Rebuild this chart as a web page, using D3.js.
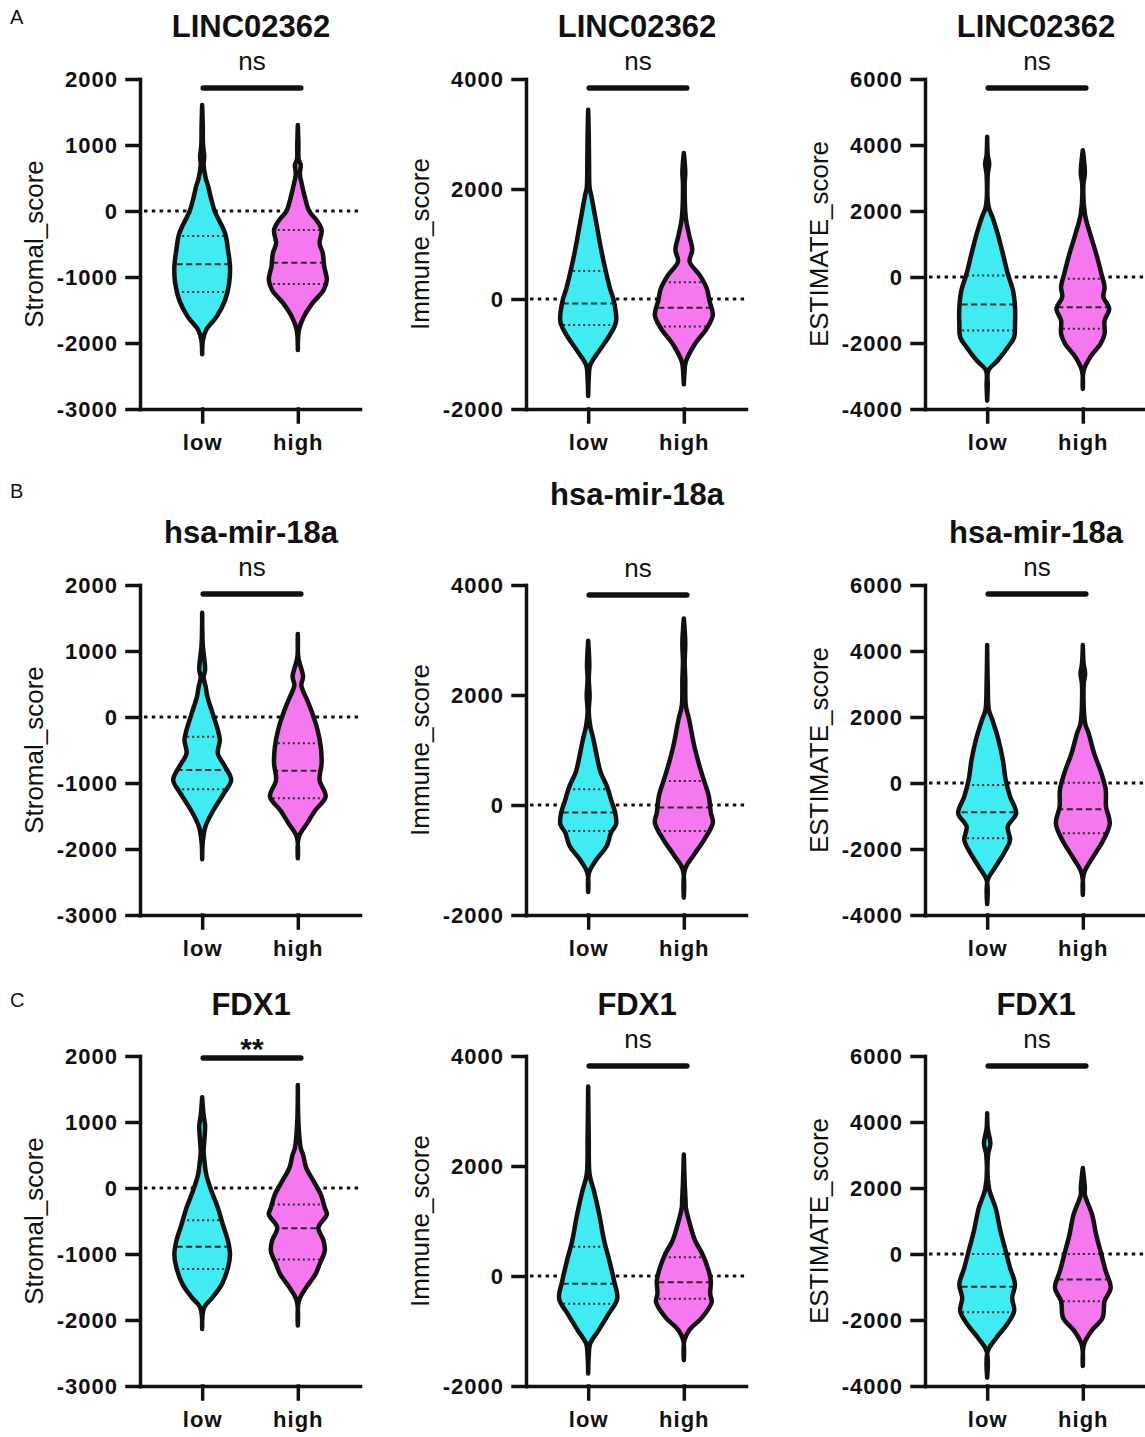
<!DOCTYPE html>
<html lang="en">
<head>
<meta charset="UTF-8">
<title>Violins</title>
<script src="https://d3js.org/d3.v7.min.js"></script>
<style>
    body { margin: 0; background: #fff; }
    text { font-family: Arial, "Liberation Sans", sans-serif; fill: #111; }
    .tick text { font-size: 22px; font-weight: bold; letter-spacing: 1px; }
    .domain, .tick line { stroke: #111; stroke-width: 3.5; stroke-linecap: square; }
</style>
</head>
<body>
<script>
    const width = 1145, height = 1437;

    const genes  = ["LINC02362", "hsa-mir-18a", "FDX1"];
    const scores = ["Stromal_score", "Immune_score", "ESTIMATE_score"];
    const groups = ["low", "high"];
    const stats  = ["ns", "ns", "ns", "ns", "ns", "ns", "**", "ns", "ns"];
    const panelLetters = ["A", "B", "C"];

    const stromalTicks  = [-3000, -2000, -1000, 0, 1000, 2000];
    const immuneTicks   = [-2000, 0, 2000, 4000];
    const estimateTicks = [-4000, -2000, 0, 2000, 4000, 6000];

    // density profiles: [score, relative density], top to bottom
    const lincStromalLow  = [[1606,0],[1300,0.02],[1000,0.03],[823,0.07],[700,0.05],[500,0.12],[369,0.21],[200,0.3],[0,0.43],[-340,0.79],[-590,0.89],[-843,0.96],[-1096,0.93],[-1350,0.79],[-1600,0.5],[-1800,0.14],[-1950,0.03],[-2170,0]];
    const lincStromalHigh = [[1303,0],[1000,0.02],[780,0.03],[700,0.1],[560,0.07],[400,0.14],[268,0.21],[0,0.39],[-136,0.64],[-288,0.82],[-490,0.75],[-640,0.86],[-843,0.91],[-1045,1],[-1197,0.89],[-1400,0.5],[-1600,0.21],[-1800,0.04],[-2106,0]];
    const lincImmuneLow   = [[3442,0],[3000,0.02],[2500,0.03],[2016,0.05],[1900,0.1],[1470,0.25],[863,0.46],[500,0.61],[195,0.75],[-47,0.89],[-411,0.96],[-654,0.75],[-957,0.36],[-1200,0.07],[-1450,0.02],[-1765,0]];
    const lincImmuneHigh  = [[2653,0],[2300,0.05],[2100,0.03],[1470,0.07],[1166,0.18],[893,0.29],[680,0.2],[438,0.54],[195,0.79],[-47,0.89],[-290,1],[-533,0.79],[-836,0.36],[-1140,0.07],[-1350,0.02],[-1552,0]];
    const lincEstLow      = [[4249,0],[3700,0.02],[3440,0.07],[3100,0.02],[2120,0.05],[1820,0.18],[1314,0.36],[707,0.54],[100,0.71],[-407,0.89],[-913,0.96],[-1419,0.96],[-1824,0.93],[-2128,0.71],[-2532,0.36],[-2836,0.04],[-3300,0.02],[-3747,0]];
    const lincEstHigh     = [[3844,0],[3136,0.07],[2800,0.02],[1920,0.07],[1314,0.25],[707,0.46],[100,0.64],[-306,0.75],[-609,0.71],[-964,0.91],[-1318,0.75],[-1723,0.75],[-2026,0.61],[-2431,0.25],[-2836,0.03],[-3393,0]];

    const mirStromalLow   = [[1581,0],[1100,0.02],[712,0.1],[600,0.05],[460,0.12],[308,0.18],[56,0.36],[-197,0.54],[-348,0.61],[-550,0.54],[-753,0.79],[-955,1],[-1157,0.75],[-1409,0.39],[-1662,0.11],[-1900,0.02],[-2157,0]];
    const mirStromalHigh  = [[1258,0],[900,0.02],[610,0.18],[480,0.12],[258,0.32],[56,0.5],[-197,0.68],[-449,0.79],[-702,0.82],[-955,0.75],[-1207,0.96],[-1409,0.61],[-1611,0.32],[-1813,0.04],[-2141,0]];
    const mirImmuneLow    = [[2987,0],[2532,0.04],[2300,0.02],[1985,0.05],[1700,0.02],[1439,0.07],[1197,0.18],[833,0.32],[590,0.43],[347,0.64],[44,0.82],[-138,0.93],[-351,0.96],[-503,0.79],[-745,0.64],[-988,0.29],[-1230,0.03],[-1583,0]];
    const mirImmuneHigh   = [[3393,0],[2950,0.05],[2600,0.03],[2290,0.05],[1803,0.07],[1561,0.18],[1075,0.36],[711,0.54],[469,0.68],[165,0.86],[-138,0.93],[-320,1],[-624,0.71],[-927,0.32],[-1170,0.04],[-1686,0]];
    const mirEstLow       = [[4182,0],[3000,0.02],[2212,0.06],[1909,0.18],[1303,0.39],[697,0.54],[91,0.64],[-414,0.79],[-919,1],[-1323,0.71],[-1727,0.79],[-2030,0.64],[-2535,0.29],[-2939,0.02],[-3667,0]];
    const mirEstHigh      = [[4182,0],[3600,0.03],[3323,0.08],[3000,0.03],[1808,0.08],[1505,0.2],[899,0.39],[293,0.64],[-212,0.79],[-717,0.8],[-1222,0.93],[-1727,0.71],[-2232,0.36],[-2737,0.04],[-3394,0]];

    const fdxStromalLow   = [[1376,0],[1100,0.05],[950,0.1],[750,0.08],[550,0.05],[405,0.08],[204,0.14],[-47,0.32],[-299,0.54],[-550,0.71],[-802,0.89],[-1003,0.96],[-1204,0.89],[-1456,0.68],[-1657,0.36],[-1808,0.07],[-2135,0]];
    const fdxStromalHigh  = [[1562,0],[1000,0.02],[607,0.1],[506,0.18],[305,0.29],[104,0.54],[-98,0.79],[-299,0.93],[-399,1],[-601,0.71],[-802,0.89],[-953,0.93],[-1154,0.75],[-1305,0.61],[-1506,0.29],[-1707,0.04],[-2085,0]];
    const fdxImmuneLow    = [[3445,0],[2500,0.02],[1847,0.05],[1545,0.2],[1123,0.38],[641,0.55],[279,0.73],[-83,0.89],[-415,1],[-686,0.71],[-988,0.36],[-1229,0.07],[-1450,0.02],[-1772,0]];
    const fdxImmuneHigh   = [[2209,0],[1700,0.03],[1364,0.06],[1244,0.07],[942,0.21],[641,0.39],[400,0.64],[158,0.82],[-83,0.93],[-324,0.91],[-475,0.96],[-747,0.64],[-988,0.18],[-1169,0.02],[-1531,0]];
    const fdxEstLow       = [[4266,0],[3800,0.02],[3350,0.11],[3000,0.03],[2000,0.06],[1393,0.29],[688,0.46],[83,0.64],[-421,0.79],[-925,0.96],[-1329,0.86],[-1732,0.93],[-2135,0.68],[-2538,0.32],[-2941,0.02],[-3748,0]];
    const fdxEstHigh      = [[2603,0],[2000,0.07],[1796,0.07],[1192,0.32],[587,0.46],[-18,0.64],[-522,0.79],[-1026,0.96],[-1429,0.75],[-1933,0.68],[-2337,0.29],[-2740,0.04],[-3395,0]];

    // quartiles [q1, median, q3]
    const lincStromalQ = [[-1227, -808, -379], [-1106, -783, -288]];
    const lincImmuneQ  = [[-472, -84, 511],    [-502, -157, 305]];
    const lincEstQ     = [[-1621, -832, 49],   [-1571, -913, -52]];
    const mirStromalQ  = [[-1096, -803, -298], [-1232, -813, -399]];
    const mirImmuneQ   = [[-472, -138, 286],   [-472, -47, 438]];
    const mirEstQ      = [[-1677, -889, -61],  [-1525, -798, 10]];
    const fdxStromalQ  = [[-1229, -892, -490], [-1084, -611, -249]];
    const fdxImmuneQ   = [[-505, -143, 532],   [-415, -113, 339]];
    const fdxEstQ      = [[-1762, -996, 2],    [-1429, -774, 2]];

    const profiles = [
        [[lincStromalLow, lincStromalHigh], [lincImmuneLow, lincImmuneHigh], [lincEstLow, lincEstHigh]],
        [[mirStromalLow, mirStromalHigh], [mirImmuneLow, mirImmuneHigh], [mirEstLow, mirEstHigh]],
        [[fdxStromalLow, fdxStromalHigh], [fdxImmuneLow, fdxImmuneHigh], [fdxEstLow, fdxEstHigh]]
    ];
    const quartiles = [
        [lincStromalQ, lincImmuneQ, lincEstQ],
        [mirStromalQ, mirImmuneQ, mirEstQ],
        [fdxStromalQ, fdxImmuneQ, fdxEstQ]
    ];
    const tickSets = [stromalTicks, immuneTicks, estimateTicks];

    // layout
    const rowTop = [79, 585, 1056];
    const colX   = [140, 526, 925];
    const plotH = 330, plotW = 220;
    const titleOffset   = [[42, 42, 42], [42, 80, 42], [41, 41, 41]];
    const bracketOffset = [[9, 9, 9], [9, 10, 9], [2, 10, 10]];
    const letterY = [24, 498, 1007];
    const fills = ["#40EBF2", "#F578EE"];

    const svg = d3.select("body").append("svg")
        .attr("width", width).attr("height", height);

    panelLetters.forEach((l, r) => {
        svg.append("text").attr("x", 10).attr("y", letterY[r])
            .style("font-size", "20px").text(l);
    });

    const w = d3.scaleLinear().domain([0, 1]).range([0, 29]);
    let clipId = 0;

    genes.forEach((gene, r) => {
        scores.forEach((score, c) => {
            const g = svg.append("g")
                .attr("transform", `translate(${colX[c]},${rowTop[r]})`);
            const ticks = tickSets[c];
            const y = d3.scaleLinear().domain(d3.extent(ticks)).range([plotH, 0]);
            const x = d3.scalePoint().domain(groups).range([0, plotW]).padding(0.65);

            // title
            g.append("text").attr("x", plotW / 2 + 1).attr("y", -titleOffset[r][c])
                .attr("text-anchor", "middle")
                .style("font-size", "31px").style("font-weight", "bold")
                .text(gene);

            // y label
            g.append("text")
                .attr("transform", `translate(-97,${plotH / 2}) rotate(-90)`)
                .attr("text-anchor", "middle")
                .style("font-size", "26px")
                .text(score);

            // zero reference line
            g.append("line")
                .attr("x1", 4).attr("x2", plotW)
                .attr("y1", y(0)).attr("y2", y(0))
                .attr("stroke", "#111").attr("stroke-width", 3.2)
                .attr("stroke-dasharray", "3.5,4.3");

            groups.forEach((grp, k) => {
                const cx = x(grp);
                const prof = profiles[r][c][k];
                const area = d3.area()
                    .y(d => y(d[0]))
                    .x0(d => cx - w(d[1]))
                    .x1(d => cx + w(d[1]))
                    .curve(d3.curveCatmullRom);
                const id = "clip" + (clipId++);
                g.append("clipPath").attr("id", id)
                    .append("path").attr("d", area(prof));

                g.append("path").attr("d", area(prof))
                    .attr("fill", fills[k]);

                const q = quartiles[r][c][k];
                g.selectAll(null).data(q).enter().append("line")
                    .attr("clip-path", `url(#${id})`)
                    .attr("x1", cx - 35).attr("x2", cx + 35)
                    .attr("y1", d => y(d)).attr("y2", d => y(d))
                    .attr("stroke", "#2a2a2a").attr("stroke-width", 2)
                    .attr("stroke-dasharray", (d, i) => i === 1 ? "6,3.5" : "2,3");

                g.append("path").attr("d", area(prof))
                    .attr("fill", "none")
                    .attr("stroke", "#111").attr("stroke-width", 4.5)
                    .attr("stroke-linejoin", "round");
            });

            // axes
            g.append("g")
                .call(d3.axisLeft(y).tickValues(ticks).tickSize(13).tickSizeOuter(0)
                    .tickPadding(9).tickFormat(d => String(d)));
            g.append("g").attr("transform", `translate(0,${plotH})`)
                .call(d3.axisBottom(x).tickSize(13).tickSizeOuter(0).tickPadding(12));

            // significance bracket
            const by = bracketOffset[r][c];
            g.append("line")
                .attr("x1", x("low") + 1).attr("x2", x("high") + 3)
                .attr("y1", by).attr("y2", by)
                .attr("stroke", "#111").attr("stroke-width", 5.5)
                .attr("stroke-linecap", "round");
            const star = stats[r * 3 + c] !== "ns";
            g.append("text")
                .attr("x", (x("low") + x("high")) / 2 + 2)
                .attr("y", star ? by + 1 : by - 18)
                .attr("text-anchor", "middle")
                .style("font-size", star ? "30px" : "26px")
                .style("font-weight", star ? "bold" : "normal")
                .text(stats[r * 3 + c]);
        });
    });
</script>
</body>
</html>
